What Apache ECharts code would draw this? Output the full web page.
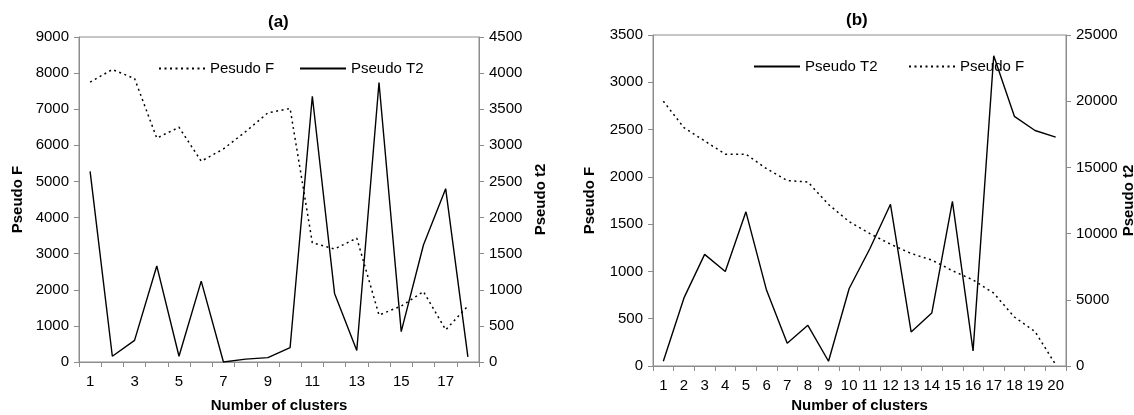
<!DOCTYPE html>
<html>
<head>
<meta charset="utf-8">
<script src="https://cdn.jsdelivr.net/npm/echarts@6/dist/echarts.min.js"></script>
<style>
  html, body { margin: 0; padding: 0; background: #fff; }
  #main { width: 1134px; height: 415px; }
</style>
</head>
<body>
<div id="main"></div>
<script>
// panel (a)
var clustersA = ['1','2','3','4','5','6','7','8','9','10','11','12','13','14','15','16','17','18'];
var pseudoFA  = [7750, 8100, 7850, 6200, 6500, 5560, 5900, 6380, 6900, 7020, 3300, 3130, 3430, 1300, 1550, 1950, 890, 1550];
var pseudoT2A = [2640, 80, 300, 1330, 80, 1120, 0, 40, 60, 200, 3680, 950, 160, 3870, 420, 1620, 2400, 70];

// panel (b)
var clustersB = ['1','2','3','4','5','6','7','8','9','10','11','12','13','14','15','16','17','18','19','20'];
var pseudoT2B = [50, 720, 1180, 1000, 1630, 800, 240, 430, 50, 820, 1240, 1710, 360, 560, 1740, 160, 3280, 2640, 2490, 2420];
var pseudoFB  = [20000, 18000, 17000, 16000, 16000, 14900, 14000, 13900, 12200, 10900, 10000, 9200, 8500, 8000, 7200, 6500, 5500, 3700, 2600, 100];

var FONT = '"Liberation Sans", Arial, sans-serif';
var GRAY = '#8c8c8c';

var myChart = echarts.init(document.getElementById('main'));

function catAxis(idx, data, labelInterval, gap) {
  return {
    type: 'category',
    gridIndex: idx,
    data: data,
    boundaryGap: true,
    name: 'Number of clusters',
    nameLocation: 'middle',
    nameGap: gap,
    nameTextStyle: { fontFamily: FONT, fontSize: 15, fontWeight: 'bold', color: '#000' },
    axisLine: { lineStyle: { color: GRAY, width: 1 } },
    axisTick: { show: true, interval: 0, length: 5, lineStyle: { color: GRAY } },
    axisLabel: { interval: labelInterval, margin: 12, fontFamily: FONT, fontSize: 15, color: '#000' },
    splitLine: { show: false }
  };
}

function valAxis(idx, pos, max, step, name, gap) {
  return {
    type: 'value',
    gridIndex: idx,
    position: pos,
    min: 0,
    max: max,
    interval: step,
    name: name,
    nameLocation: 'middle',
    nameGap: gap,
    nameTextStyle: { fontFamily: FONT, fontSize: 15, fontWeight: 'bold', color: '#000' },
    axisLine: { show: true, lineStyle: { color: GRAY, width: 1 } },
    axisTick: { show: true, length: 5, lineStyle: { color: GRAY } },
    axisLabel: { margin: 10, fontFamily: FONT, fontSize: 15, color: '#000',
      formatter: function (v) { return String(v); } },
    splitLine: { show: false }
  };
}

var solid = { color: '#000', width: 1.4, type: 'solid' };
var dotted = { color: '#000', width: 1.5, type: [2, 3.5] };

function legendAt(name, left, top) {
  return {
    data: [name],
    left: left,
    top: top,
    itemWidth: 46,
    itemHeight: 12,
    itemGap: 0,
    itemStyle: { color: 'transparent', borderColor: 'transparent', borderWidth: 0 },
    textStyle: { fontFamily: FONT, fontSize: 15, color: '#000' },
    padding: 0
  };
}

var option = {
  animation: false,
  backgroundColor: '#fff',
  title: [
    { text: '(a)', left: 268, top: 14, padding: 0,
      textStyle: { fontFamily: FONT, fontSize: 17, fontWeight: 'bold', color: '#000' } },
    { text: '(b)', left: 846, top: 12, padding: 0,
      textStyle: { fontFamily: FONT, fontSize: 17, fontWeight: 'bold', color: '#000' } }
  ],
  legend: [
    legendAt('Pesudo F', 158, 61),
    legendAt('Pseudo T2', 299, 61),
    legendAt('Pseudo T2 ', 753, 59),
    legendAt('Pseudo F', 908, 59)
  ],
  grid: [
    { left: 79, top: 37, width: 400, height: 325, show: true, borderColor: GRAY, borderWidth: 1,
      backgroundColor: 'transparent', outerBoundsMode: 'none' },
    { left: 653, top: 35, width: 413, height: 331, show: true, borderColor: GRAY, borderWidth: 1,
      backgroundColor: 'transparent', outerBoundsMode: 'none' }
  ],
  xAxis: [
    catAxis(0, clustersA, 1, 36),
    catAxis(1, clustersB, 0, 30)
  ],
  yAxis: [
    valAxis(0, 'left', 9000, 1000, 'Pseudo F', 54),
    valAxis(0, 'right', 4500, 500, 'Pseudo t2', 54),
    valAxis(1, 'left', 3500, 500, 'Pseudo F', 56),
    valAxis(1, 'right', 25000, 5000, 'Pseudo t2', 55)
  ],
  series: [
    { name: 'Pesudo F', type: 'line', xAxisIndex: 0, yAxisIndex: 0, data: pseudoFA,
      symbol: 'none', lineStyle: dotted, itemStyle: { color: '#000' } },
    { name: 'Pseudo T2', type: 'line', xAxisIndex: 0, yAxisIndex: 1, data: pseudoT2A,
      symbol: 'none', lineStyle: solid, itemStyle: { color: '#000' } },
    { name: 'Pseudo T2 ', type: 'line', xAxisIndex: 1, yAxisIndex: 2, data: pseudoT2B,
      symbol: 'none', lineStyle: solid, itemStyle: { color: '#000' } },
    { name: 'Pseudo F', type: 'line', xAxisIndex: 1, yAxisIndex: 3, data: pseudoFB,
      symbol: 'none', lineStyle: dotted, itemStyle: { color: '#000' } }
  ]
};

myChart.setOption(option);
</script>
</body>
</html>
